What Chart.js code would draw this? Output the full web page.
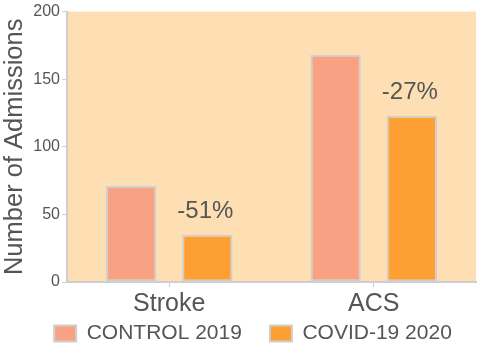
<!DOCTYPE html>
<html><head><meta charset="utf-8">
<script src="https://cdn.jsdelivr.net/npm/chart.js@4/dist/chart.umd.min.js"></script>
<style>html,body{margin:0;padding:0;background:#fff}#wrap{width:480px;height:348px}</style>
</head><body><div id="wrap"><canvas id="c" width="480" height="348"></canvas></div>
<script>
const categories = ["Stroke", "ACS"];
const control2019 = [71, 168];
const covid2020 = [35, 123];
const changeLabels = ["-51%", "-27%"];
const seriesNames = ["CONTROL 2019", "COVID-19 2020"];
const yTicks = [0, 50, 100, 150, 200];

const FONT = '"Liberation Sans", Arial, sans-serif';
const bgPlugin = {
  id: 'bg',
  beforeDraw(chart) {
    const {ctx, chartArea: a} = chart;
    ctx.save();
    ctx.fillStyle = '#FDDFB3';
    ctx.fillRect(a.left, a.top, a.right - a.left, a.bottom - a.top);
    ctx.restore();
  }
};
const labelPlugin = {
  id: 'chg',
  afterDatasetsDraw(chart) {
    const meta = chart.getDatasetMeta(1);
    const ctx = chart.ctx;
    ctx.save();
    ctx.fillStyle = '#555555';
    ctx.font = '24px ' + FONT;
    ctx.textAlign = 'center';
    ctx.textBaseline = 'alphabetic';
    meta.data.forEach((bar, i) => {
      ctx.fillText(changeLabels[i], bar.x - 2, bar.y - 17);
    });
    ctx.restore();
  }
};
const legendShift = {
  id: 'legendShift',
  afterLayout(chart) {
    const lg = chart.legend;
    if (!lg) return;
    lg.top = chart.height - 53;
    lg.bottom = chart.height;
    lg.left += 15; lg.right += 15;
  }
};

new Chart(document.getElementById('c'), {
  type: 'bar',
  data: {
    labels: categories,
    datasets: [
      {label: seriesNames[0], data: control2019, backgroundColor: '#F9A183', borderColor: '#CFCFCF', borderWidth: 2, borderSkipped: false},
      {label: seriesNames[1], data: covid2020, backgroundColor: '#FE9F34', borderColor: '#CFCFCF', borderWidth: 2, borderSkipped: false}
    ]
  },
  options: {
    responsive: false,
    animation: false,
    devicePixelRatio: 1,
    categoryPercentage: 0.745,
    barPercentage: 0.66,
    layout: {padding: {top: 10, right: 4, left: 0, bottom: 0}},
    plugins: {
      legend: {
        position: 'bottom',
        maxHeight: 27,
        labels: {
          boxWidth: 22, boxHeight: 16, padding: 28,
          color: '#555555',
          font: {family: FONT, size: 21}
        }
      },
      tooltip: {enabled: false}
    },
    scales: {
      x: {
        grid: {display: true, drawOnChartArea: false, offset: false, color: '#CFCFCF', tickLength: 5, lineWidth: 1},
        border: {color: '#CFCFCF', width: 2},
        ticks: {color: '#555555', padding: 2, font: {family: FONT, size: 25}}
      },
      y: {
        min: 0, max: 200,
        afterBuildTicks(axis) { axis.ticks = yTicks.map(v => ({value: v})); },
        afterFit(axis) { axis.width = 67; },
        grid: {display: true, drawOnChartArea: false, color: '#CFCFCF', tickLength: 5},
        border: {color: '#CFCFCF', width: 2},
        title: {display: true, text: 'Number of Admissions', color: '#555555', padding: 0, font: {family: FONT, size: 25.5}},
        ticks: {color: '#555555', padding: 2, font: {family: FONT, size: 16}}
      }
    }
  },
  plugins: [bgPlugin, labelPlugin, legendShift]
});
</script></body></html>
